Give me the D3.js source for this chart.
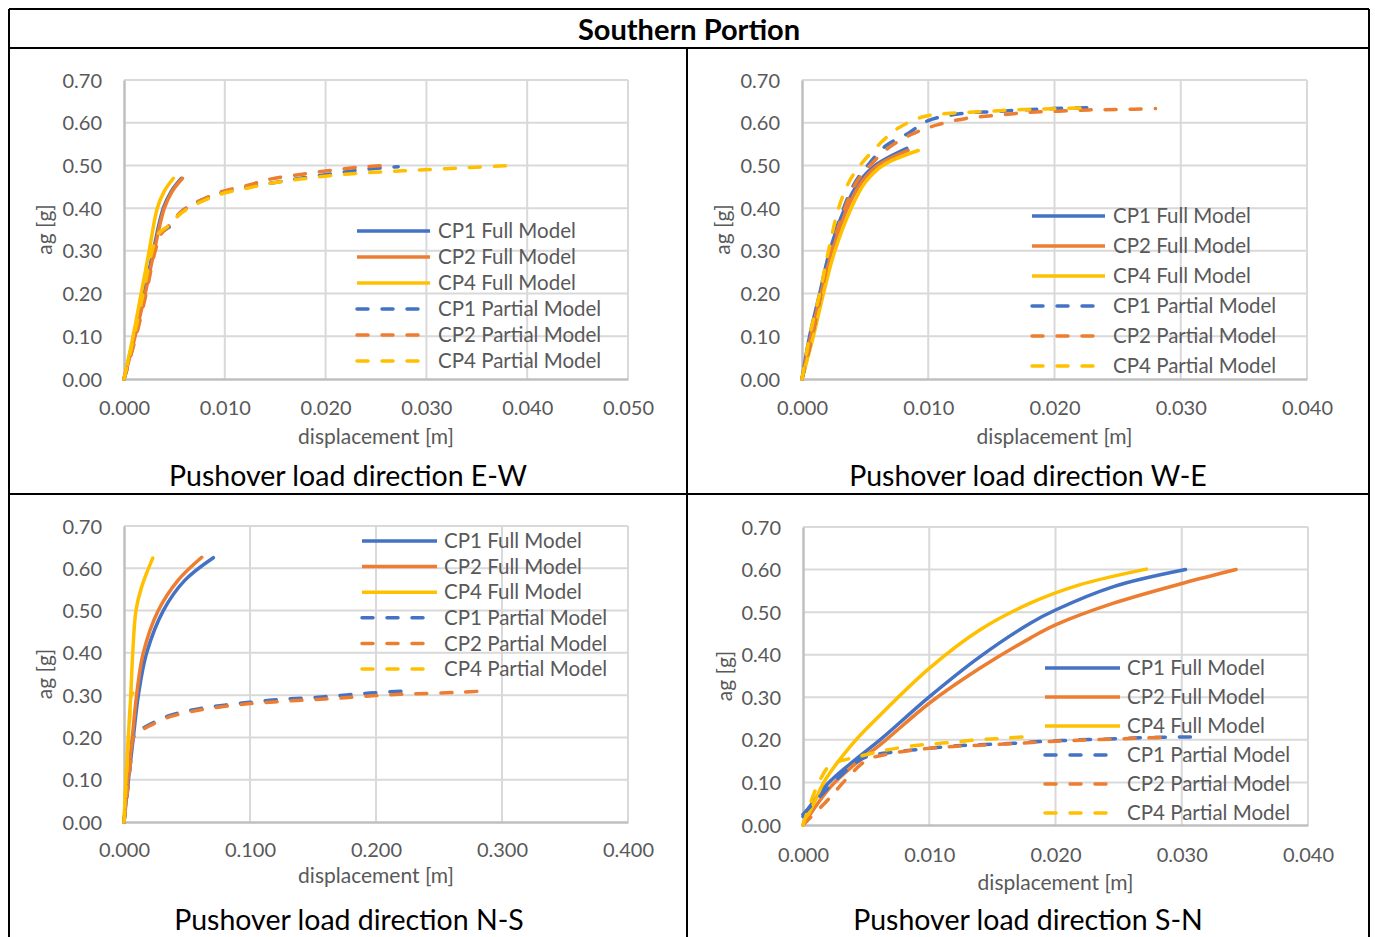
<!DOCTYPE html>
<html>
<head>
<meta charset="utf-8">
<script src="https://cdn.jsdelivr.net/npm/d3@7"></script>
<style>
  html, body { margin: 0; padding: 0; background: #fff; }
  svg { display: block; }
  text { font-family: Lato, "Noto Sans", sans-serif; }
</style>
</head>
<body>
<svg id="chart" width="1375" height="937"></svg>
<script>
// ---- Pushover curves: [displacement (m), ag (g)] ----
// Direction E-W
const ewCP1Full = [[0,0],[0.0010,0.10],[0.0020,0.20],[0.0029,0.30],[0.0039,0.40],[0.0047,0.44],[0.0057,0.47]];
const ewCP2Full = [[0,0],[0.0011,0.10],[0.0021,0.20],[0.0030,0.30],[0.0040,0.40],[0.0048,0.44],[0.0058,0.47]];
const ewCP4Full = [[0,0],[0.0009,0.10],[0.0017,0.20],[0.0025,0.30],[0.0033,0.40],[0.0040,0.44],[0.0049,0.47]];
const ewCP1Part = [[0,0],[0.0005,0.04],[0.0011,0.10],[0.0021,0.20],[0.0030,0.30],[0.0036,0.34],[0.0047,0.36],[0.0056,0.39],[0.0069,0.41],[0.0095,0.435],[0.0125,0.450],[0.0150,0.460],[0.0175,0.470],[0.0205,0.480],[0.0235,0.490],[0.0272,0.497]];
const ewCP2Part = [[0,0],[0.0005,0.04],[0.0012,0.10],[0.0022,0.20],[0.0031,0.30],[0.0037,0.34],[0.0047,0.365],[0.0056,0.39],[0.0069,0.41],[0.0095,0.437],[0.0125,0.455],[0.0145,0.468],[0.0175,0.479],[0.0204,0.488],[0.0234,0.496],[0.0258,0.500]];
const ewCP4Part = [[0,0],[0.0004,0.04],[0.0010,0.10],[0.0019,0.20],[0.0028,0.30],[0.0034,0.34],[0.0045,0.36],[0.0055,0.385],[0.0068,0.405],[0.0095,0.432],[0.0125,0.448],[0.0145,0.458],[0.0175,0.468],[0.0204,0.476],[0.0234,0.482],[0.0264,0.486],[0.0290,0.489],[0.0320,0.4925],[0.0350,0.496],[0.0388,0.500]];

// Direction W-E
const weCP1Full = [[0,0],[0.0006,0.10],[0.0014,0.20],[0.0022,0.30],[0.0034,0.40],[0.0045,0.46],[0.0058,0.50],[0.0083,0.540]];
const weCP2Full = [[0,0],[0.0007,0.10],[0.0015,0.20],[0.0024,0.30],[0.0036,0.40],[0.0047,0.46],[0.0060,0.50],[0.0084,0.535]];
const weCP4Full = [[0,0],[0.0009,0.10],[0.0017,0.20],[0.0026,0.30],[0.0039,0.40],[0.0050,0.46],[0.0064,0.50],[0.0092,0.535]];
const weCP1Part = [[0,0],[0.0004,0.05],[0.0008,0.10],[0.0015,0.20],[0.0022,0.30],[0.0033,0.40],[0.0042,0.46],[0.0052,0.50],[0.0066,0.545],[0.0084,0.575],[0.0100,0.605],[0.0128,0.622],[0.0152,0.626],[0.0175,0.630],[0.0199,0.633],[0.0235,0.636]];
const weCP2Part = [[0,0],[0.0004,0.05],[0.0008,0.10],[0.0015,0.20],[0.0023,0.30],[0.0034,0.40],[0.0043,0.46],[0.0054,0.50],[0.0068,0.540],[0.0087,0.573],[0.0107,0.595],[0.0130,0.610],[0.0156,0.618],[0.0179,0.624],[0.0203,0.627],[0.0227,0.630],[0.0250,0.631],[0.0280,0.633]];
const weCP4Part = [[0,0],[0.0003,0.05],[0.0006,0.10],[0.0014,0.20],[0.0021,0.30],[0.0029,0.40],[0.0037,0.46],[0.0046,0.50],[0.0062,0.552],[0.0076,0.587],[0.0096,0.614],[0.0117,0.622],[0.0143,0.626],[0.0167,0.630],[0.0191,0.632],[0.0225,0.635]];

// Direction N-S
const nsCP1Full = [[0,0],[0.0035,0.10],[0.0074,0.20],[0.0114,0.30],[0.0180,0.40],[0.0312,0.50],[0.0484,0.572],[0.0709,0.625]];
const nsCP2Full = [[0,0],[0.0030,0.10],[0.0066,0.20],[0.0100,0.30],[0.0153,0.40],[0.0272,0.50],[0.0430,0.572],[0.0617,0.626]];
const nsCP4Full = [[0,0],[0.0012,0.08],[0.0026,0.162],[0.0053,0.296],[0.0069,0.398],[0.0095,0.50],[0.0140,0.556],[0.0228,0.624]];
const nsCP1Part = [[0,0],[0.0030,0.08],[0.0055,0.15],[0.0074,0.20],[0.0120,0.215],[0.0200,0.230],[0.0365,0.252],[0.0600,0.268],[0.0870,0.279],[0.1000,0.283],[0.1240,0.290],[0.1480,0.294],[0.1710,0.299],[0.1950,0.305],[0.2250,0.310]];
const nsCP2Part = [[0,0],[0.0030,0.08],[0.0055,0.15],[0.0074,0.20],[0.0120,0.213],[0.0200,0.227],[0.0365,0.249],[0.0600,0.265],[0.0870,0.276],[0.1000,0.280],[0.1240,0.285],[0.1480,0.289],[0.1710,0.293],[0.1950,0.298],[0.2190,0.302],[0.2430,0.304],[0.2670,0.307],[0.2870,0.310]];
const nsCP4Part = [[0,0],[0.0015,0.08],[0.0030,0.16],[0.0040,0.22],[0.0050,0.27],[0.0058,0.300],[0.0070,0.305]];

// Direction S-N
const snCP1Full = [[0,0.02],[0.0019,0.095],[0.0040,0.150],[0.0061,0.200],[0.0100,0.301],[0.0140,0.395],[0.0180,0.474],[0.0200,0.505],[0.0246,0.560],[0.0303,0.600]];
const snCP2Full = [[0,0],[0.0022,0.090],[0.0040,0.140],[0.0061,0.188],[0.0100,0.286],[0.0140,0.368],[0.0180,0.439],[0.0200,0.470],[0.0246,0.521],[0.0301,0.568],[0.0343,0.600]];
const snCP4Full = [[0,0],[0.0011,0.066],[0.0016,0.098],[0.0039,0.190],[0.0061,0.258],[0.0100,0.368],[0.0140,0.458],[0.0180,0.521],[0.0219,0.564],[0.0272,0.601]];
const snCP1Part = [[0,0.025],[0.0035,0.13],[0.0050,0.160],[0.0074,0.172],[0.0100,0.180],[0.0122,0.186],[0.0167,0.192],[0.0188,0.196],[0.0219,0.200],[0.0243,0.202],[0.0267,0.205],[0.0307,0.207]];
const snCP2Part = [[0,0],[0.0020,0.06],[0.0035,0.11],[0.0051,0.153],[0.0074,0.170],[0.0100,0.180],[0.0122,0.185],[0.0167,0.191],[0.0200,0.197],[0.0219,0.199],[0.0267,0.204],[0.0293,0.207]];
const snCP4Part = [[0,0],[0.0011,0.09],[0.0021,0.14],[0.0028,0.149],[0.0043,0.160],[0.0066,0.176],[0.0093,0.188],[0.0114,0.193],[0.0138,0.200],[0.0161,0.204],[0.0184,0.209]];

// Labels
const seriesNames = ["CP1 Full Model", "CP2 Full Model", "CP4 Full Model", "CP1 Partial Model", "CP2 Partial Model", "CP4 Partial Model"];
const seriesColors = ["#4472C4", "#ED7D31", "#FFC000", "#4472C4", "#ED7D31", "#FFC000"];
const seriesDashed = [false, false, false, true, true, true];
const yTickValues = [0, 0.1, 0.2, 0.3, 0.4, 0.5, 0.6, 0.7];
const xTicksSmall5 = [0, 0.01, 0.02, 0.03, 0.04, 0.05];
const xTicksSmall4 = [0, 0.01, 0.02, 0.03, 0.04];
const xTicksLarge = [0, 0.1, 0.2, 0.3, 0.4];
const tableTitle = "Southern Portion";
const panelTitles = ["Pushover load direction E-W", "Pushover load direction W-E", "Pushover load direction N-S", "Pushover load direction S-N"];
const xAxisTitle = "displacement [m]";
const yAxisTitle = "ag [g]";

// ---- Layout of the four panels ----
const panels = [
  { series: [ewCP1Full, ewCP2Full, ewCP4Full, ewCP1Part, ewCP2Part, ewCP4Part], xTicks: xTicksSmall5,
    box: { l: 124, r: 628, t: 80, b: 379 }, xTickDy: 29, xTitleY: 437, yTitleX: 45,
    legend: { x: 357, len: 73, tx: 438, y0: 231, dy: 26 }, title: panelTitles[0], titleX: 348, titleY: 476 },
  { series: [weCP1Full, weCP2Full, weCP4Full, weCP1Part, weCP2Part, weCP4Part], xTicks: xTicksSmall4,
    box: { l: 802, r: 1307, t: 80, b: 379 }, xTickDy: 29, xTitleY: 437, yTitleX: 723,
    legend: { x: 1032, len: 73, tx: 1113, y0: 216, dy: 30 }, title: panelTitles[1], titleX: 1028, titleY: 476 },
  { series: [nsCP1Full, nsCP2Full, nsCP4Full, nsCP1Part, nsCP2Part, nsCP4Part], xTicks: xTicksLarge,
    box: { l: 124, r: 628, t: 526, b: 822 }, xTickDy: 28, xTitleY: 876, yTitleX: 45,
    legend: { x: 362, len: 75, tx: 444, y0: 541, dy: 25.6 }, title: panelTitles[2], titleX: 349, titleY: 920 },
  { series: [snCP1Full, snCP2Full, snCP4Full, snCP1Part, snCP2Part, snCP4Part], xTicks: xTicksSmall4,
    box: { l: 803, r: 1308, t: 527, b: 825 }, xTickDy: 30, xTitleY: 883, yTitleX: 725,
    legend: { x: 1045, len: 75, tx: 1127, y0: 668, dy: 29 }, title: panelTitles[3], titleX: 1028, titleY: 920 }
];

const svg = d3.select("#chart");
const gray = "#595959";
const tickFont = 20;
const axisTitleFont = 21;
const legendFont = 20.5;
const captionFont = 28.5;

// Table frame
const frame = svg.append("g").attr("stroke", "#000").attr("stroke-width", 2).attr("fill", "none");
frame.append("line").attr("x1", 9).attr("x2", 1369).attr("y1", 9).attr("y2", 9);
frame.append("line").attr("x1", 9).attr("x2", 9).attr("y1", 9).attr("y2", 937);
frame.append("line").attr("x1", 1369).attr("x2", 1369).attr("y1", 9).attr("y2", 937);
frame.append("line").attr("x1", 9).attr("x2", 1369).attr("y1", 48).attr("y2", 48);
frame.append("line").attr("x1", 9).attr("x2", 1369).attr("y1", 494).attr("y2", 494);
frame.append("line").attr("x1", 687).attr("x2", 687).attr("y1", 48).attr("y2", 937);

svg.append("text").attr("x", 689).attr("y", 30).attr("dy", "0.35em").attr("text-anchor", "middle")
  .attr("font-size", 29).attr("font-weight", "bold").attr("fill", "#000").text(tableTitle);

const fmt2 = d3.format(".2f");
const fmt3 = d3.format(".3f");

panels.forEach(p => {
  const g = svg.append("g");
  const b = p.box;
  const xMax = p.xTicks[p.xTicks.length - 1];
  const x = d3.scaleLinear().domain([0, xMax]).range([b.l, b.r]);
  const y = d3.scaleLinear().domain([0, 0.7]).range([b.b, b.t]);

  // Gridlines
  const grid = g.append("g").attr("stroke", "#d9d9d9").attr("stroke-width", 2);
  grid.selectAll("line.h").data(yTickValues.slice(1)).join("line")
    .attr("x1", b.l).attr("x2", b.r).attr("y1", d => y(d)).attr("y2", d => y(d));
  grid.selectAll("line.v").data(p.xTicks.slice(1)).join("line")
    .attr("x1", d => x(d)).attr("x2", d => x(d)).attr("y1", b.t).attr("y2", b.b);

  // Axes
  const yAxis = d3.axisLeft(y).tickValues(yTickValues).tickFormat(fmt2).tickSize(0).tickPadding(22);
  const ya = g.append("g").attr("transform", `translate(${b.l},0)`).call(yAxis);
  const xAxis = d3.axisBottom(x).tickValues(p.xTicks).tickFormat(fmt3).tickSize(0);
  const xa = g.append("g").attr("transform", `translate(0,${b.b})`).call(xAxis);
  [ya, xa].forEach(a => {
    a.select(".domain").attr("stroke", "#bfbfbf").attr("stroke-width", 2.5);
    a.selectAll("text").attr("fill", gray).attr("font-size", tickFont).attr("font-family", "Lato, 'Noto Sans', sans-serif");
  });
  xa.selectAll("text").attr("y", p.xTickDy).attr("dy", "0.35em");
  ya.selectAll("text").attr("dy", "0.35em");

  // Axis titles
  g.append("text").attr("x", (b.l + b.r) / 2).attr("y", p.xTitleY).attr("dy", "0.35em")
    .attr("text-anchor", "middle").attr("font-size", axisTitleFont).attr("fill", gray).text(xAxisTitle);
  g.append("text").attr("transform", `translate(${p.yTitleX},${(b.t + b.b) / 2}) rotate(-90)`)
    .attr("dy", "0.35em").attr("text-anchor", "middle").attr("font-size", axisTitleFont).attr("fill", gray).text(yAxisTitle);

  // Curves
  const line = d3.line().x(d => x(d[0])).y(d => y(d[1])).curve(d3.curveCatmullRom.alpha(0.5));
  p.series.forEach((data, i) => {
    g.append("path").datum(data).attr("d", line)
      .attr("fill", "none").attr("stroke", seriesColors[i]).attr("stroke-width", 3.5)
      .attr("stroke-linecap", "round").attr("stroke-linejoin", "round")
      .attr("stroke-dasharray", seriesDashed[i] ? "11,14" : null);
  });

  // Legend
  const L = p.legend;
  seriesNames.forEach((name, i) => {
    const yy = L.y0 + i * L.dy;
    g.append("line").attr("x1", L.x).attr("x2", L.x + L.len).attr("y1", yy).attr("y2", yy)
      .attr("stroke", seriesColors[i]).attr("stroke-width", 3.5)
      .attr("stroke-linecap", seriesDashed[i] ? "round" : "butt")
      .attr("stroke-dasharray", seriesDashed[i] ? "11,14" : null);
    g.append("text").attr("x", L.tx).attr("y", yy).attr("dy", "0.35em")
      .attr("font-size", legendFont).attr("fill", gray).text(name);
  });

  // Panel caption
  svg.append("text").attr("x", p.titleX).attr("y", p.titleY).attr("dy", "0.35em")
    .attr("text-anchor", "middle").attr("font-size", captionFont).attr("fill", "#000").text(p.title);
});
</script>
</body>
</html>
